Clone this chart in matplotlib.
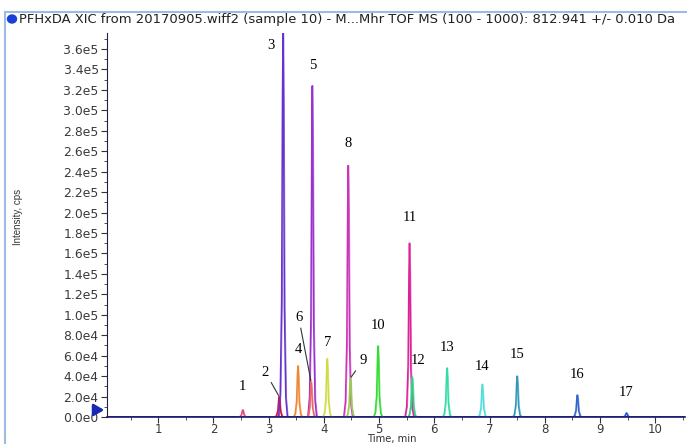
import matplotlib
matplotlib.use("Agg")
import matplotlib.pyplot as plt
from matplotlib.ticker import MultipleLocator, FuncFormatter
import numpy as np

# peak apex times (min), heights (cps), colours
peak_t = [2.53, 3.19, 3.26, 3.53, 3.79, 3.77, 4.06, 4.44, 4.48, 4.98,
          5.55, 5.60, 6.23, 6.87, 7.50, 8.59, 9.48]
peak_h = [0.7e4, 2.0e4, 3.80e5, 5.0e4, 3.24e5, 3.4e4, 5.7e4, 2.46e5, 3.8e4, 6.95e4,
          1.70e5, 3.9e4, 4.8e4, 3.2e4, 4.0e4, 2.15e4, 0.4e4]
peak_c = ['#e0507a', '#dd1133', '#6633cc', '#ee8833', '#9933cc', '#ee6666', '#cfdc48',
          '#cc33bb', '#99cc55', '#33dd33', '#dd2299', '#33cc88', '#33ddaa', '#55dddd',
          '#3399bb', '#3366cc', '#3355cc']
peak_names = [str(i) for i in range(1, 18)]

# shared sampled peak profile (offset from apex, relative intensity)
prof_dt = [-0.08, -0.05, -0.025, -0.01, 0.0, 0.01, 0.025, 0.05, 0.08]
prof_rel = [0.0, 0.06, 0.3, 0.82, 1.0, 0.8, 0.28, 0.05, 0.0]


def sci_fmt(v, pos):
    if v <= 0:
        return '0.0e0'
    e = int(np.floor(np.log10(v) + 1e-9))
    return '%.1fe%d' % (v / 10 ** e, e)


fig = plt.figure(figsize=(6.87, 4.44), dpi=100)
ax = fig.add_axes([107/687, 27/444, 578/687, 384/444])

xmin, xmax = 0.072, 10.54
ymax = 3.757e5
ax.plot([xmin, xmax], [0, 0], color='#1a1a6e', lw=1.2, zorder=1)

for t, h, c in zip(peak_t, peak_h, peak_c):
    xs = [t + d for d in prof_dt]
    ys = [h * r for r in prof_rel]
    ax.plot(xs, ys, color=c, lw=1.1, zorder=2)
    ax.plot([x + 0.014 for x in xs], ys, color=c, lw=0.7, alpha=0.6, zorder=2)

# label offsets in points (dx, dy) from apex; leader-line labels handled separately
offsets = {0: (0, 12), 2: (-9, 0), 3: (0, 7), 4: (0, 10), 6: (0, 7), 7: (0, 11),
           9: (0, 10), 10: (0, 14), 11: (4, 7), 12: (0, 10), 13: (0, 8),
           14: (0, 11), 15: (0, 10), 16: (0, 10)}
serif = 'Liberation Serif'
for i, name in enumerate(peak_names):
    t, h = peak_t[i], min(peak_h[i], ymax)
    if i in offsets:
        dx, dy = offsets[i]
        if i == 2:
            h = ymax * 0.985
        ax.annotate(name, (t, h), xytext=(dx, dy), textcoords='offset points',
                    ha='center', va='bottom' if i != 2 else 'top', fontsize=10.5,
                    family=serif)

# labels with leader lines
leaders = {1: (-10, 13), 5: (-9, 42), 8: (9, 8)}
for i, (dx, dy) in leaders.items():
    ax.annotate(peak_names[i], (peak_t[i], peak_h[i]), xytext=(dx, dy),
                textcoords='offset points', ha='center', va='bottom', fontsize=10.5,
                family=serif,
                arrowprops=dict(arrowstyle='-', color='#333333', lw=0.8,
                                shrinkA=1, shrinkB=1))

ax.set_xlim(xmin, xmax)
ax.set_ylim(0, ymax)
for s in ['top', 'right']:
    ax.spines[s].set_visible(False)
ax.spines['left'].set_color('#222244')
ax.spines['bottom'].set_color('#1a1a6e')
ax.spines['bottom'].set_linewidth(1.2)

ax.xaxis.set_major_locator(MultipleLocator(1))
ax.xaxis.set_minor_locator(MultipleLocator(0.5))
ax.yaxis.set_major_locator(MultipleLocator(2e4))
ax.yaxis.set_minor_locator(MultipleLocator(1e4))
ax.yaxis.set_major_formatter(FuncFormatter(sci_fmt))
ax.tick_params(which='major', length=4, width=0.8, color='#333333',
               labelsize=8.9, labelcolor='#3a3a3a', pad=2)
ax.tick_params(axis='x', which='major', pad=0.5, labelsize=8.5)
ax.tick_params(which='minor', length=2, width=0.6, color='#333333')
for lab in ax.get_xticklabels() + ax.get_yticklabels():
    lab.set_family('DejaVu Sans')

# blue arrow marker at zero level
ax.annotate('', xy=(107/687, 1 - 410/444), xycoords='figure fraction',
            xytext=(93/687, 1 - 410/444), textcoords='figure fraction',
            arrowprops=dict(arrowstyle='-|>,head_width=0.35,head_length=0.6',
                            color='#1a2ab0', lw=2.0))

# window frame and header
fig.add_artist(plt.Line2D([5/687, 5/687], [0, 1 - 12/444], color='#9bbbe0', lw=1.5))
fig.add_artist(plt.Line2D([5/687, 1], [1 - 12/444, 1 - 12/444], color='#9bbbe0', lw=1.5))
fig.add_artist(matplotlib.patches.Ellipse((12/687, 1 - 19/444), 9/687, 8/444,
                                          color='#1a3fd6'))
fig.text(19/687, 1 - 19/444,
         'PFHxDA XIC from 20170905.wiff2 (sample 10) - M...Mhr TOF MS (100 - 1000): 812.941 +/- 0.010 Da',
         ha='left', va='center', fontsize=9.45, family='DejaVu Sans', color='#222222')

fig.text(18/687, 1 - 217/444, 'Intensity, cps', rotation=90, ha='center', va='center',
         fontsize=7, family='Liberation Sans', color='#333333')
fig.text(392/687, 0, 'Time, min', ha='center', va='bottom',
         fontsize=7.2, family='DejaVu Sans', color='#333333')

fig.savefig('out.png', dpi=100)
